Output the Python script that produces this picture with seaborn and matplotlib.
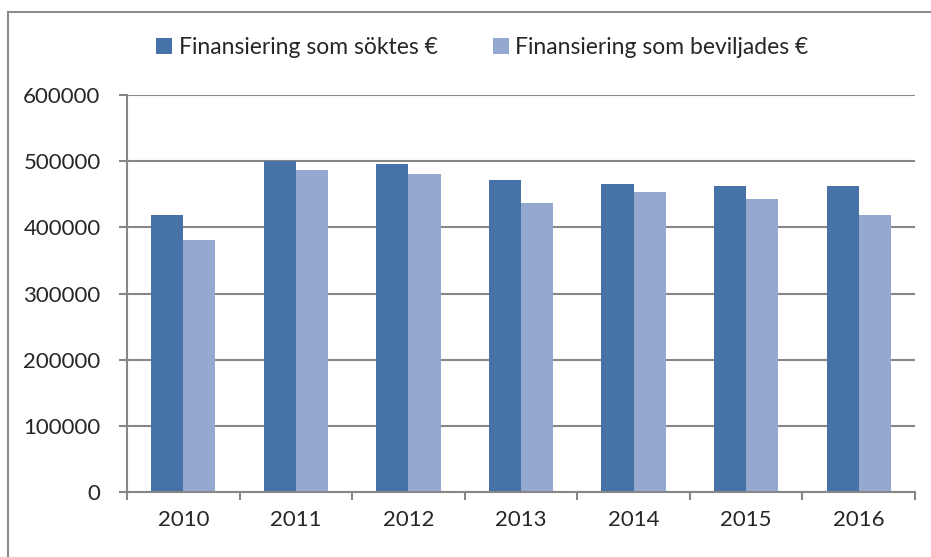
import numpy as np
import pandas as pd
import matplotlib
matplotlib.use("Agg")
import matplotlib.pyplot as plt
import seaborn as sns
from matplotlib.patches import Rectangle
from matplotlib.ticker import FixedLocator

years = ["2010", "2011", "2012", "2013", "2014", "2015", "2016"]
sokt = [418000, 500000, 495000, 471000, 466000, 462000, 462000]
beviljat = [381000, 487000, 481000, 437000, 454000, 443000, 419000]
series = ["Finansiering som söktes €", "Finansiering som beviljades €"]
colors = ["#4672A8", "#95A9D0"]

df = pd.DataFrame({
    "year": years * 2,
    "value": sokt + beviljat,
    "serie": [series[0]] * len(years) + [series[1]] * len(years),
})

sns.set_style("white")
plt.rcParams["font.family"] = ["Lato", "DejaVu Sans"]

fig = plt.figure(figsize=(9.31, 5.57), dpi=100)
ax = fig.add_axes([127 / 931, 65 / 557, 788 / 931, 397 / 557])

sns.barplot(data=df, x="year", y="value", hue="serie", palette=colors,
            width=0.57, dodge=True, linewidth=0, saturation=1, ax=ax)

ax.set_xlim(-0.5, 6.5)
ax.set_ylim(0, 600000)
ax.set_yticks(np.arange(0, 600001, 100000))
ax.set_yticklabels([str(v) for v in range(0, 600001, 100000)])
ax.set_xlabel("")
ax.set_ylabel("")

# grid
ax.grid(axis="y", color="#878787", linewidth=1.5)
ax.set_axisbelow(True)

for s in ["top", "right"]:
    ax.spines[s].set_visible(False)
for s in ["left", "bottom"]:
    ax.spines[s].set_color("#878787")
    ax.spines[s].set_linewidth(1.5)

ax.tick_params(axis="y", direction="out", length=6, width=1.5, color="#878787",
               labelsize=16, pad=13, left=True)
ax.tick_params(axis="x", which="major", length=0, labelsize=16, pad=13)
ax.xaxis.set_minor_locator(FixedLocator(np.arange(-0.5, 7, 1)))
ax.tick_params(axis="x", which="minor", direction="out", length=6, width=1.5,
               color="#878787", bottom=True)

# legend
handles, labels = ax.get_legend_handles_labels()
ax.legend_.remove()
fig.legend(handles, labels, loc="center", bbox_to_anchor=(0.518, 0.914),
           ncol=2, frameon=False, fontsize=16.5, handlelength=0.7,
           handleheight=0.7, handletextpad=0.3, columnspacing=2.4)

# outer frame of the chart area
fig.patches.append(Rectangle((8 / 931, -0.1), 1.2, (557 - 12) / 557 + 0.1,
                             transform=fig.transFigure, fill=False,
                             edgecolor="#8c8c8c", linewidth=1.5))

fig.savefig("out.png", dpi=100)
